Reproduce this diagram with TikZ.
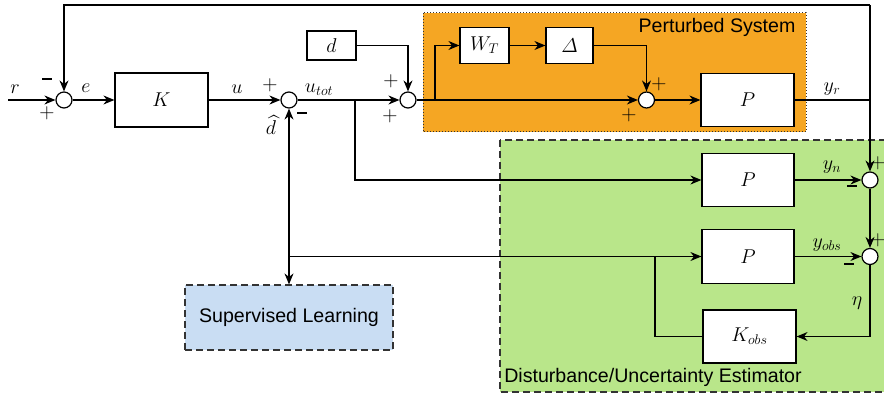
\RequirePackage{fix-cm}
\documentclass[tikz,border=0pt]{standalone}
\usepackage{amsmath}
\usepackage{fontspec}
\setsansfont{Liberation Sans}
\usetikzlibrary{arrows.meta,calc}
\definecolor{orangebg}{HTML}{F5A623}
\definecolor{greenbg}{HTML}{B9E68A}
\definecolor{bluebg}{HTML}{C9DDF3}
\definecolor{frame}{HTML}{333333}
\newcommand{\mysub}{\rule[0.2em]{10pt}{2.6pt}}
\begin{document}
\begin{tikzpicture}[x=1pt,y=-1pt, line width=1.2pt,
 blk/.style={draw, fill=white, inner sep=0, font=\fontsize{20}{24}\selectfont},
 sumc/.style={draw, fill=white, circle, minimum size=16pt, inner sep=0},
 arr/.style={-{Stealth[length=11pt,width=9pt]}},
 darr/.style={{Stealth[length=11pt,width=9pt]}-{Stealth[length=11pt,width=9pt]}},
 lbl/.style={inner sep=0, font=\fontsize{20}{24}\selectfont},
 sgn/.style={inner sep=0, font=\fontsize{21}{24}\selectfont},
 ttl/.style={inner sep=0, font=\sffamily\fontsize{19.6}{22}\selectfont}]
\clip (0,0) rectangle (884,393);
% backgrounds
\draw[fill=orangebg, draw=frame, line width=1pt, dash pattern=on 1pt off 2pt] (423,13) rectangle (806,132);
\draw[fill=greenbg, draw=frame, line width=1.2pt, dash pattern=on 7pt off 4pt] (500,140) rectangle (892,392);
\node[ttl] (pstitle) at (717,27) {Perturbed System};
\node[ttl] (duetitle) at (653,377) {Disturbance/Uncertainty Estimator};
% blocks
\node[sumc] (sum1) at (64,100) {};
\node[blk, minimum width=93pt, minimum height=54pt] (K) at (161.5,100) {$K$};
\node[sumc] (sum2) at (289,100) {};
\node[blk, minimum width=49pt, minimum height=29pt] (d) at (331.5,45.5) {$d$};
\node[sumc] (sum3) at (408,100) {};
\node[blk, minimum width=49pt, minimum height=36pt] (WT) at (484.5,45.5) {$W_T$};
\node[blk, minimum width=47pt, minimum height=36pt] (Delta) at (569.5,45.5) {$\varDelta$};
\node[sumc] (sum4) at (646.5,100) {};
\node[blk, minimum width=93pt, minimum height=53pt] (Pr) at (747.5,100) {$P$};
\node[blk, minimum width=92pt, minimum height=53pt] (Pn) at (748,180) {$P$};
\node[sumc] (sum5) at (870,180) {};
\node[blk, minimum width=92pt, minimum height=54pt] (Pobs) at (748,256.5) {$P$};
\node[sumc] (sum6) at (870,256.5) {};
\node[blk, minimum width=93pt, minimum height=53pt] (Kobs) at (749.5,336.5) {$K_{obs}$};
\node[draw=frame, fill=bluebg, line width=1.2pt, dash pattern=on 7pt off 4pt, minimum width=208pt, minimum height=65pt, inner sep=0, font=\sffamily\fontsize{19.6}{22}\selectfont] (SL) at (289,317.5) {Supervised Learning};
% coordinates
\coordinate (rin) at (8,100);
\coordinate (tr) at (870,5);
\coordinate (tl) at (64,5);
\coordinate (br1) at (355,100);
\coordinate (br2) at (435,100);
\coordinate (br3) at (655,256.5);
\coordinate (br4) at (289,256.5);
% connectors
\draw[arr] (rin) -- (sum1.west);
\draw[arr] (sum1.east) -- (K.west);
\draw[arr] (K.east) -- (sum2.west);
\draw[arr] (sum2.east) -- (sum3.west);
\draw[arr] (br1) |- (Pn.west);
\draw[arr] (d.east) -| (sum3.north);
\draw[arr] (sum3.east) -- (sum4.west);
\draw[arr] (br2) |- (WT.west);
\draw[arr] (WT.east) -- (Delta.west);
\draw[arr] (Delta.east) -| (sum4.north);
\draw[arr] (sum4.east) -- (Pr.west);
\draw (Pr.east) -- (Pr.east -| tr);
\draw[arr] (tr) -- (sum5.north);
\draw[arr] (tr) -- (tl) -- (sum1.north);
\draw[arr] (Pn.east) -- (sum5.west);
\draw[arr] (sum5.south) -- (sum6.north);
\draw[arr] (Pobs.east) -- (sum6.west);
\draw[arr] (sum6.south) |- (Kobs.east);
\draw (Kobs.west) -| (br3);
\draw[arr] (br4) -- (Pobs.west);
\draw[darr] (sum2.south) -- (SL.north);
% labels
\node[lbl] (lr) at (15,89) {$r$};
\node[lbl] (le) at (86,88) {$e$};
\node[lbl] (lu) at (237,89) {$u$};
\node[lbl] (lutot) at (319,90) {$u_{tot}$};
\node[lbl] (ldh) at (271,125) {$\widehat{d}$};
\node[lbl] (lyr) at (832,89) {$y_r$};
\node[lbl] (lyn) at (832,167) {$y_n$};
\node[lbl] (lyobs) at (827,245) {$y_{obs}$};
\node[lbl] (leta) at (857,303) {$\eta$};
% signs
\node[sgn] (s1m) at (47,81) {\mysub};
\node[sgn] (s1p) at (47,113) {$+$};
\node[sgn] (s2p) at (270,85) {$+$};
\node[sgn] (s2m) at (302,115) {\mysub};
\node[sgn] (s3p) at (391,81) {$+$};
\node[sgn] (s3q) at (390,116) {$+$};
\node[sgn] (s4p) at (659,84) {$+$};
\node[sgn] (s4q) at (629,115) {$+$};
\node[sgn] (s5p) at (878,163) {$+$};
\node[sgn] (s5m) at (852,188) {\mysub};
\node[sgn] (s6p) at (878,240) {$+$};
\node[sgn] (s6m) at (849,266) {\mysub};
\end{tikzpicture}
\end{document}
